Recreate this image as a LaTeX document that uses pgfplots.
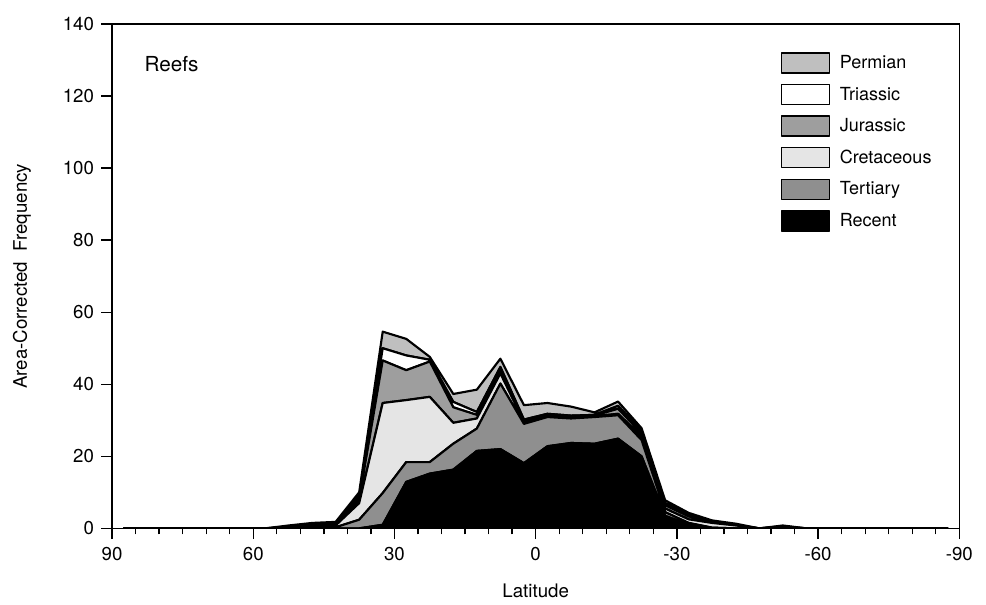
\documentclass[border=0pt]{standalone}
\usepackage{pgfplots}
\pgfplotsset{compat=1.18}
\usepackage{pgfplotstable}
\usepackage{fontspec}
\setmainfont{TeX Gyre Heros}
\definecolor{cperm}{gray}{0.75}
\definecolor{ctri}{gray}{1.0}
\definecolor{cjur}{gray}{0.62}
\definecolor{ccre}{gray}{0.90}
\definecolor{cter}{gray}{0.56}
\definecolor{crec}{gray}{0.0}
% increments of each layer (stacked from Recent upward)
\pgfplotstableread{
lat R T C J Tr P
87.5 0 0 0 0 0 0
82.5 0 0 0 0 0 0
77.5 0 0 0 0 0 0
72.5 0 0 0 0 0 0
67.5 0 0 0 0 0 0
62.5 0 0 0 0 0 0
57.5 0 0 0 0 0 0
52.5 0 0 0.2 0.1 0.2 0.3
47.5 0 0 0.5 0.3 0.3 0.4
42.5 0 0.3 0.5 0.4 0.3 0.3
37.5 0 2.4 4.6 1.0 1.0 1.0
32.5 1.0 8.8 25.0 11.8 3.4 4.6
27.5 12.9 5.5 17.2 8.3 4.1 4.6
22.5 15.2 3.2 18.1 9.8 0.5 0.8
17.5 16.3 7.2 5.8 4.3 1.5 2.2
12.5 21.5 6.2 2.8 1.0 0.8 6.2
7.5 22.0 18.2 2.8 1.0 0.8 2.3
2.5 18.1 10.9 0.5 0.3 0.4 4.0
-2.5 22.8 8.1 0.3 0.3 0.3 3.0
-7.5 23.7 6.8 0.3 0.2 0.3 2.5
-12.5 23.5 7.4 0.2 0.2 0.2 0.7
-17.5 24.9 6.5 0.4 1.4 0.8 1.2
-22.5 20.0 4.5 1.0 0.8 0.7 0.8
-27.5 3.5 1.0 1.0 0.9 0.6 0.8
-32.5 1.0 0.5 1.0 0.8 0.4 0.6
-37.5 0 0.2 1.3 0.1 0.2 0.4
-42.5 0 0 0.8 0.1 0.1 0.3
-47.5 0 0 0 0 0 0
-52.5 0 0 0 0.5 0.1 0.2
-57.5 0 0 0 0 0 0
-62.5 0 0 0 0 0 0
-67.5 0 0 0 0 0 0
-72.5 0 0 0 0 0 0
-77.5 0 0 0 0 0 0
-82.5 0 0 0 0 0 0
-87.5 0 0 0 0 0 0
}\reefs
\begin{document}
\begin{tikzpicture}
\begin{axis}[
  scale only axis, width=635pt, height=378pt,
  xmin=-90, xmax=90, x dir=reverse, ymin=0, ymax=140,
  xtick={-90,-60,...,90}, minor xtick={-85,-80,...,85},
  ytick={0,20,...,140},
  tick align=outside, xtick pos=bottom, ytick pos=left,
  major tick length=8pt, minor tick length=4.5pt,
  tick style={black, line width=1pt},
  axis line style={line width=1.2pt},
  /pgf/number format/assume math mode=true,
  tick label style={font=\fontsize{14}{16}\selectfont},
  label style={font=\fontsize{14}{16}\selectfont},
  xlabel={Latitude}, ylabel={Area-Corrected\ \ Frequency},
  xlabel style={yshift=-10pt},
  ylabel style={yshift=17pt},
  yticklabel style={xshift=-2pt},
  xticklabel style={yshift=-3pt},
  stack plots=y,
  every axis plot/.append style={draw=black, line width=1.6pt, line join=round},
  reverse legend,
  legend style={at={(rel axis cs:0.789,0.945)}, anchor=north west, draw=none, fill=none,
    font=\fontsize{13.5}{15}\selectfont, row sep=7.5pt, inner sep=0pt,
    nodes={inner sep=1pt}},
  legend cell align=left,
  legend image code/.code={\draw[#1, line width=1.2pt] (0pt,-7.5pt) rectangle (36pt,7.5pt);},
]
\addplot[fill=crec] table[x=lat, y=R] {\reefs} \closedcycle;
\addlegendentry{\hspace{6pt}Recent}
\addplot[fill=cter] table[x=lat, y=T] {\reefs} \closedcycle;
\addlegendentry{\hspace{6pt}Tertiary}
\addplot[fill=ccre] table[x=lat, y=C] {\reefs} \closedcycle;
\addlegendentry{\hspace{6pt}Cretaceous}
\addplot[fill=cjur] table[x=lat, y=J] {\reefs} \closedcycle;
\addlegendentry{\hspace{6pt}Jurassic}
\addplot[fill=ctri] table[x=lat, y=Tr] {\reefs} \closedcycle;
\addlegendentry{\hspace{6pt}Triassic}
\addplot[fill=cperm] table[x=lat, y=P] {\reefs} \closedcycle;
\addlegendentry{\hspace{6pt}Permian}
\node[anchor=west, font=\fontsize{15.5}{17}\selectfont] at (rel axis cs:0.033,0.92) {Reefs};
\end{axis}
\path (current axis.south west) ++(-84pt,-57pt);
\path (current axis.north east) ++(20pt,18pt);
\end{tikzpicture}
\end{document}
